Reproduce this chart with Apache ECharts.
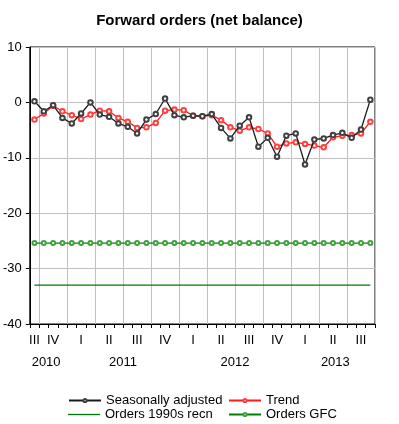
<!DOCTYPE html>
<html>
<head>
<meta charset="utf-8">
<script src="https://cdn.jsdelivr.net/npm/echarts@6/dist/echarts.min.js"></script>
<style>
html,body{margin:0;padding:0;background:#fff;}
#chart{width:399px;height:424px;}
</style>
</head>
<body>
<div id="chart"></div>
<script>
const months = [
  'Sep 2010','Oct 2010','Nov 2010','Dec 2010',
  'Jan 2011','Feb 2011','Mar 2011','Apr 2011','May 2011','Jun 2011','Jul 2011','Aug 2011','Sep 2011','Oct 2011','Nov 2011','Dec 2011',
  'Jan 2012','Feb 2012','Mar 2012','Apr 2012','May 2012','Jun 2012','Jul 2012','Aug 2012','Sep 2012','Oct 2012','Nov 2012','Dec 2012',
  'Jan 2013','Feb 2013','Mar 2013','Apr 2013','May 2013','Jun 2013','Jul 2013','Aug 2013','Sep 2013'
];
const quarterLabels = [
  'III','','IV','',
  '','I','','','II','','','III','','','IV','',
  '','I','','','II','','','III','','','IV','',
  '','I','','','II','','','III',''
];
const yearLabels = ['2010','2011','2012','2013'];
const yearLabelAt = [1.25, 9.5, 21.5, 32.25];
const yTicks = [-40, -30, -20, -10, 0, 10];

const seasonallyAdjusted = [
  0.2,-1.6,-0.5,-2.8,
  -3.8,-2.0,0.0,-2.2,-2.6,-3.8,-4.4,-5.6,-3.1,-2.1,0.7,-2.3,
  -2.7,-2.4,-2.5,-2.1,-4.6,-6.5,-4.2,-2.7,-8.0,-6.4,-9.8,-6.0,
  -5.6,-11.2,-6.7,-6.5,-5.9,-5.5,-6.4,-4.9,0.5
];
const trend = [
  -3.1,-2.0,-0.6,-1.6,
  -2.3,-3.0,-2.2,-1.5,-1.6,-2.8,-3.5,-4.6,-4.5,-3.7,-1.5,-1.3,
  -1.4,-2.4,-2.5,-2.3,-3.2,-4.5,-5.1,-4.5,-4.8,-5.6,-8.0,-7.4,
  -7.2,-7.5,-7.8,-8.1,-6.3,-6.0,-5.9,-5.6,-3.5
];
const orders1990s = [
  -33,-33,-33,-33,
  -33,-33,-33,-33,-33,-33,-33,-33,-33,-33,-33,-33,
  -33,-33,-33,-33,-33,-33,-33,-33,-33,-33,-33,-33,
  -33,-33,-33,-33,-33,-33,-33,-33,-33
];
const ordersGFC = [
  -25.4,-25.4,-25.4,-25.4,
  -25.4,-25.4,-25.4,-25.4,-25.4,-25.4,-25.4,-25.4,-25.4,-25.4,-25.4,-25.4,
  -25.4,-25.4,-25.4,-25.4,-25.4,-25.4,-25.4,-25.4,-25.4,-25.4,-25.4,-25.4,
  -25.4,-25.4,-25.4,-25.4,-25.4,-25.4,-25.4,-25.4,-25.4
];

const FONT = 'Liberation Sans, Arial, sans-serif';
const chart = echarts.init(document.getElementById('chart'), null, {renderer: 'canvas'});

function legendItem(name, left, top, extra) {
  return Object.assign({
    data: [name], left: left, top: top, padding: 0,
    itemWidth: 32, itemHeight: 4, itemGap: 0,
    textStyle: {fontFamily: FONT, fontSize: 13, color: '#000'}
  }, extra || {});
}

chart.setOption({
  animation: false,
  backgroundColor: '#fff',
  textStyle: {fontFamily: FONT, color: '#000'},
  title: {
    text: 'Forward orders (net balance)',
    left: 'center',
    top: 8,
    textStyle: {fontFamily: FONT, fontSize: 15, fontWeight: 'bold', color: '#000'}
  },
  grid: {
    left: 28, right: 24, top: 47, bottom: 100,
    show: true, borderColor: '#000', borderWidth: 1
  },
  legend: [
    legendItem('Seasonally adjusted', 68, 394),
    legendItem('Trend', 228, 394),
    legendItem('Orders 1990s recn', 68, 408, {icon: 'rect', itemHeight: 1.3}),
    legendItem('Orders GFC', 228, 408)
  ],
  xAxis: [
    {
      type: 'category',
      data: months,
      boundaryGap: true,
      axisLine: {show: true, onZero: false, lineStyle: {color: '#000', width: 1}},
      axisTick: {show: true, interval: 0, length: 4, inside: false, lineStyle: {color: '#000'}},
      axisLabel: {
        interval: 0, margin: 10, fontSize: 13, color: '#000', fontFamily: FONT,
        formatter: (v, i) => quarterLabels[i]
      },
      splitLine: {
        show: true,
        interval: (i) => i % 3 === 1,
        lineStyle: {color: '#c0c0c0', width: 1}
      }
    },
    {
      type: 'value',
      min: -0.5, max: 36.5, interval: 0.25,
      position: 'bottom',
      axisLine: {show: false, onZero: false},
      axisTick: {show: false},
      splitLine: {show: false},
      axisLabel: {
        margin: 32, fontSize: 13, color: '#000', fontFamily: FONT,
        showMinLabel: true, showMaxLabel: true,
        formatter: (v) => {
          for (let k = 0; k < yearLabelAt.length; k++) {
            if (Math.abs(v - yearLabelAt[k]) < 1e-6) return yearLabels[k];
          }
          return '';
        }
      }
    }
  ],
  yAxis: {
    type: 'value',
    min: yTicks[0], max: yTicks[yTicks.length - 1], interval: 10,
    axisLine: {show: true, onZero: false, lineStyle: {color: '#000', width: 1}},
    axisTick: {show: true, length: 4, inside: false, lineStyle: {color: '#000'}},
    axisLabel: {margin: 8, fontSize: 13, color: '#000', fontFamily: FONT},
    splitLine: {show: true, lineStyle: {color: '#c0c0c0', width: 1}}
  },
  series: [
    {
      name: 'Seasonally adjusted', type: 'line', data: seasonallyAdjusted,
      symbol: 'emptyCircle', symbolSize: 4.5, showAllSymbol: true,
      lineStyle: {color: '#1a1a1a', width: 1.3},
      itemStyle: {color: '#404040', borderWidth: 1},
      z: 5
    },
    {
      name: 'Trend', type: 'line', data: trend,
      symbol: 'emptyCircle', symbolSize: 4.5, showAllSymbol: true,
      lineStyle: {color: '#ff1a1a', width: 1.3},
      itemStyle: {color: '#ff4040', borderWidth: 1},
      z: 4
    },
    {
      name: 'Orders 1990s recn', type: 'line', data: orders1990s,
      symbol: 'none',
      lineStyle: {color: '#007a00', width: 1.2},
      itemStyle: {color: '#007a00'},
      z: 3
    },
    {
      name: 'Orders GFC', type: 'line', data: ordersGFC,
      symbol: 'emptyCircle', symbolSize: 4, showAllSymbol: true,
      lineStyle: {color: '#008000', width: 1.2},
      itemStyle: {color: '#40a040', borderWidth: 1},
      z: 3
    }
  ]
});
</script>
</body>
</html>
